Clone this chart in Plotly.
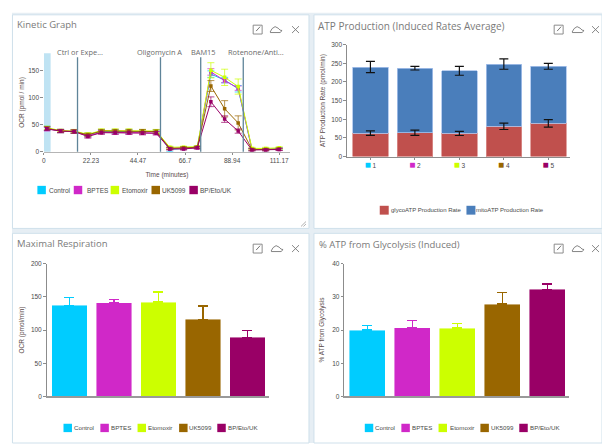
import plotly.graph_objects as go

W, H = 602, 446

groups = ["Control", "BPTES", "Etomoxir", "UK5099", "BP/Eto/UK"]
colors = ["#00ccff", "#d028c8", "#ccff00", "#996600", "#990066"]

time_min = [1.4, 7.9, 14.3, 20.8, 27.2, 33.7, 40.2, 46.6, 53.1, 59.5, 66.0, 72.5, 78.9, 85.4, 91.8, 98.3, 104.8, 111.17]
ocr_control = [43, 38, 37, 31, 37, 37, 37, 37, 37, 4, 6, 8, 143, 132, 116, 4, 4, 5]
ocr_bptes = [42, 38, 37, 29, 36, 35, 35, 35, 34, 6, 6, 7, 147, 131, 117, 4, 4, 4]
ocr_etomoxir = [44, 39, 38, 32, 39, 39, 39, 38, 38, 8, 8, 9, 150, 137, 120, 6, 6, 7]
ocr_uk5099 = [43, 38, 37, 31, 38, 38, 38, 38, 37, 6, 7, 8, 121, 79, 53, 4, 4, 5]
ocr_combo = [42, 38, 37, 28, 35, 35, 35, 34, 34, 5, 5, 7, 92, 60, 38, 3, 3, 4]
err_control = [4, 3, 3, 3, 3, 3, 3, 3, 3, 4, 2, 2, 6, 5, 6, 2, 2, 2]
err_bptes = [4, 3, 3, 3, 3, 3, 3, 3, 3, 2, 2, 2, 6, 4, 4, 2, 2, 2]
err_etomoxir = [3, 2, 3, 3, 3, 3, 3, 3, 3, 2, 2, 2, 14, 15, 14, 2, 2, 2]
err_uk5099 = [3, 3, 3, 3, 3, 3, 3, 3, 3, 2, 2, 2, 10, 15, 13, 2, 2, 2]
err_combo = [3, 3, 3, 3, 3, 3, 3, 3, 3, 2, 2, 2, 9, 6, 4, 2, 2, 2]
kinetic_values = [ocr_control, ocr_bptes, ocr_etomoxir, ocr_uk5099, ocr_combo]
kinetic_errors = [err_control, err_bptes, err_etomoxir, err_uk5099, err_combo]
kinetic_ticks = [0, 22.23, 44.47, 66.7, 88.94, 111.17]
kinetic_ticklabels = ["0", "22.23", "44.47", "66.7", "88.94", "111.17"]
injection_names = ["Ctrl or Expe...", "Oligomycin A", "BAM15", "Rotenone/Anti..."]
injection_times = [15.9, 55.1, 74.1, 94.2]

atp_groups = [1, 2, 3, 4, 5]
glyco_atp = [63, 64, 62, 81, 89]
mito_atp = [177, 173, 168, 167, 153]
total_atp = [240, 237, 230, 248, 242]
glyco_err = [6, 7, 5.5, 8.5, 10]
mito_err = [15, 5, 12, 14, 8]

max_resp = [137, 141, 142, 116, 89]
max_resp_err = [12, 5, 15, 20, 10]
pct_glyco = [20, 20.7, 20.6, 27.8, 32.2]
pct_glyco_err = [1.4, 2.2, 1.4, 3.5, 1.7]

TEXT = "#4a4a4a"
TITLE = "#7a7a7a"
AXIS = "#8c8c8c"
TICKF = dict(family="Liberation Sans, Arial", size=6.5, color=TEXT)
TITLEF = dict(family="Liberation Sans, Arial", size=6.5, color="#5a4a4a")


def px(x):
    return x / W


def py(y):
    return 1 - y / H


fig = go.Figure()
shapes = []
annots = []


def rect(x0, y0, x1, y1, fill, line="rgba(0,0,0,0)", lw=0, layer="below"):
    shapes.append(dict(type="rect", xref="paper", yref="paper", x0=px(x0), x1=px(x1), y0=py(y0), y1=py(y1),
                       fillcolor=fill, line=dict(color=line, width=lw), layer=layer))


def label(x, y, text, size=6.5, color=TEXT, family="Liberation Sans, Arial", anchor="left"):
    annots.append(dict(xref="paper", yref="paper", x=px(x), y=py(y), text=text, showarrow=False,
                       xanchor=anchor, yanchor="middle", font=dict(size=size, color=color, family=family),
                       borderpad=0, borderwidth=0))


def path(points, color="#777777", lw=0.9, fill="rgba(0,0,0,0)"):
    d = ""
    for cmd, x, y in points:
        d += f"{cmd}{px(x):.5f},{py(y):.5f} "
    shapes.append(dict(type="path", xref="paper", yref="paper", path=d.strip(),
                       line=dict(color=color, width=lw), fillcolor=fill, layer="above"))


def icons(xe, xc, xx, y):
    rect(xe, y, xe + 9, y + 9, "rgba(0,0,0,0)", "#808080", 0.9, "above")
    path([("M", xe + 3, y + 6), ("L", xe + 7, y + 1.5)], lw=1)
    path([("M", xc, y + 7), ("L", xc + 2, y + 3.5), ("L", xc + 5, y + 1.5), ("L", xc + 8, y + 3), ("L", xc + 10, y + 5),
          ("L", xc + 12, y + 5.5), ("L", xc + 10, y + 7.5), ("L", xc, y + 7.5)])
    path([("M", xx, y + 1), ("L", xx + 7, y + 8)])
    path([("M", xx + 7, y + 1), ("L", xx, y + 8)])


# dashboard background and panels
rect(10, 9, W, H, "#e6eef4")
for x0, y0, x1, y1 in [(10.5, 11, 308, 228), (313, 11, 602, 228), (10.5, 233, 308, 446), (313, 233, 602, 446)]:
    rect(x0, y0, x1, y1, "#ffffff", "#cfe0eb", 1)

label(15, 21, "Kinetic Graph", 9.5, TITLE, "Open Sans")
label(317, 22, "ATP Production (Induced Rates Average)", 10, TITLE, "Open Sans")
label(15, 243, "Maximal Respiration", 9.5, TITLE, "Open Sans")
label(318, 244, "% ATP from Glycolysis (Induced)", 9.5, TITLE, "Open Sans")
icons(252, 269, 291, 21.5)
icons(554, 572, 592, 21.5)
icons(252, 270, 291, 244)
icons(554, 572, 592, 244)
path([("M", 300, 226), ("L", 305, 221)], "#9a9a9a", 0.8)
path([("M", 302.5, 226), ("L", 305, 223.5)], "#9a9a9a", 0.8)


def set_axes(n, x0, x1, y_bottom, y_top, xcfg, ycfg):
    sx = "xaxis" if n == 1 else f"xaxis{n}"
    sy = "yaxis" if n == 1 else f"yaxis{n}"
    base = dict(showgrid=False, zeroline=False, showline=True, ticks="outside", ticklen=2.5, tickwidth=1,
                tickcolor=AXIS, tickfont=TICKF, linecolor=AXIS, linewidth=1)
    fig.update_layout({
        sx: {**base, "domain": [px(x0), px(x1)], "anchor": "y" if n == 1 else f"y{n}", **xcfg},
        sy: {**base, "domain": [py(y_bottom), py(y_top)], "anchor": "x" if n == 1 else f"x{n}", **ycfg},
    })


# Panel 1: kinetic graph
for name, color, vals, errs in zip(groups, colors, kinetic_values, kinetic_errors):
    fig.add_trace(go.Scatter(
        x=time_min, y=vals, name=name, mode="lines+markers", xaxis="x", yaxis="y", showlegend=False,
        line=dict(color=color, width=1), marker=dict(color=color, size=3.5, symbol="square"),
        error_y=dict(type="data", array=errs, color=color, thickness=0.7, width=3.5)))

set_axes(1, 42, 289, 150, 50,
         dict(range=[0, 116.3], tickvals=kinetic_ticks, ticktext=kinetic_ticklabels, linecolor="#b5b5b5",
              title=dict(text="Time (minutes)", font=TITLEF, standoff=9)),
         dict(range=[0, 181.5], tickvals=[0, 50, 100, 150], showline=False,
              title=dict(text="OCR (pmol / min)", font=TITLEF, standoff=2)))

shapes.append(dict(type="rect", xref="x", yref="y domain", x0=0, x1=3.2, y0=0, y1=1,
                   fillcolor="#bfe3f3", line=dict(width=0), layer="below"))
for t in injection_times:
    shapes.append(dict(type="line", xref="x", yref="y domain", x0=t, x1=t, y0=0, y1=0.96,
                       line=dict(color="#5f8499", width=1.3), layer="above"))
for name, xc in zip(injection_names, [78, 158.5, 202, 255]):
    label(xc, 49, name, 7.4, "#6a6a6a", "Open Sans", "center")

# Panel 2: ATP production
fig.add_trace(go.Bar(
    x=atp_groups, y=glyco_atp, name="glycoATP Production Rate", xaxis="x2", yaxis="y2", showlegend=False, width=0.8,
    marker=dict(color="#c0504d", line=dict(color="#d98f8c", width=0.8))))
fig.add_trace(go.Bar(
    x=atp_groups, y=mito_atp, name="mitoATP Production Rate", xaxis="x2", yaxis="y2", showlegend=False, width=0.8,
    marker=dict(color="#4a7ebb", line=dict(color="#a9c3ec", width=0.8))))
# error bars drawn above both stacked bars
for values, errors, name in [(glyco_atp, glyco_err, "glycoATP error"), (total_atp, mito_err, "mitoATP error")]:
    fig.add_trace(go.Scatter(
        x=atp_groups, y=values, name=name, mode="markers", xaxis="x2", yaxis="y2", showlegend=False,
        marker=dict(size=1, opacity=0), hoverinfo="skip",
        error_y=dict(type="data", array=errors, color="#111111", thickness=1.2, width=4.5)))

atp_ticktext = [f"<span style='color:{c};font-size:10px'>■</span> {g}" for c, g in zip(colors, atp_groups)]
set_axes(2, 346, 570, 155, 41.3,
         dict(range=[0.47, 5.49], tickvals=atp_groups, ticktext=atp_ticktext),
         dict(range=[0, 300], tickvals=[0, 50, 100, 150, 200, 250, 300],
              title=dict(text="ATP Production Rate (pmol/min)", font=TITLEF, standoff=4)))
fig.update_layout(barmode="stack")


# Panels 3 and 4: single-series bars
def bars(n, values, errors, x0, x1, xrange, ymax, ytick, ytitle, standoff):
    for name, color, v, e in zip(groups, colors, values, errors):
        fig.add_trace(go.Bar(
            x=[name], y=[v], name=name, xaxis=f"x{n}", yaxis=f"y{n}", showlegend=False, width=0.8,
            marker=dict(color=color, line=dict(color="rgba(255,255,255,0.55)", width=0.8)),
            error_y=dict(type="data", array=[e], arrayminus=[0], symmetric=False, color=color,
                         thickness=1.5, width=5)))
    set_axes(n, x0, x1, 398.7, 263.7,
             dict(type="category", categoryorder="array", categoryarray=groups, range=xrange, showticklabels=False,
                  ticks="", linecolor="#999999", linewidth=1.6),
             dict(range=[0, ymax], tick0=0, dtick=ytick,
                  title=dict(text=ytitle, font=TITLEF, standoff=standoff)))


bars(3, max_resp, max_resp_err, 44.7, 268, [-0.516, 4.49], 200, 50, "OCR (pmol/min)", 5)
bars(4, pct_glyco, pct_glyco_err, 343.3, 569.3, [-0.516, 4.49], 40, 10, "% ATP from Glycolysis", 6)


# Legends
def legend(items, y, labels, cols, w=8.5, size=6.5):
    for (x0, xt), text, c in zip(items, labels, cols):
        rect(x0, y - w / 2, x0 + w, y + w / 2, c, layer="above")
        label(xt, y, text, size)


legend([(35.5, 47.5), (72, 85.5), (109, 120), (150, 161), (188, 199)], 189, groups, colors)
legend([(379, 390), (466, 476)], 209.5, ["glycoATP Production Rate", "mitoATP Production Rate"], ["#c0504d", "#4a7ebb"], 9, 6)
legend([(61.7, 72), (98.7, 109), (136, 146), (177.7, 188), (216, 227)], 430.7, groups, colors, 8.5, 6.2)
legend([(364, 374.5), (400.7, 411), (438, 449), (480, 490.5), (519, 530)], 430.7, groups, colors, 8.5, 6.2)

fig.update_layout(width=W, height=H, margin=dict(l=0, r=0, t=0, b=0, pad=0), autosize=False,
                  paper_bgcolor="#ffffff", plot_bgcolor="rgba(0,0,0,0)", bargap=0.2,
                  shapes=shapes, annotations=annots, showlegend=False)

fig.write_html("out.html", config=dict(displayModeBar=False, responsive=False),
               post_script="document.body.style.margin='0';document.body.style.overflow='hidden';")
